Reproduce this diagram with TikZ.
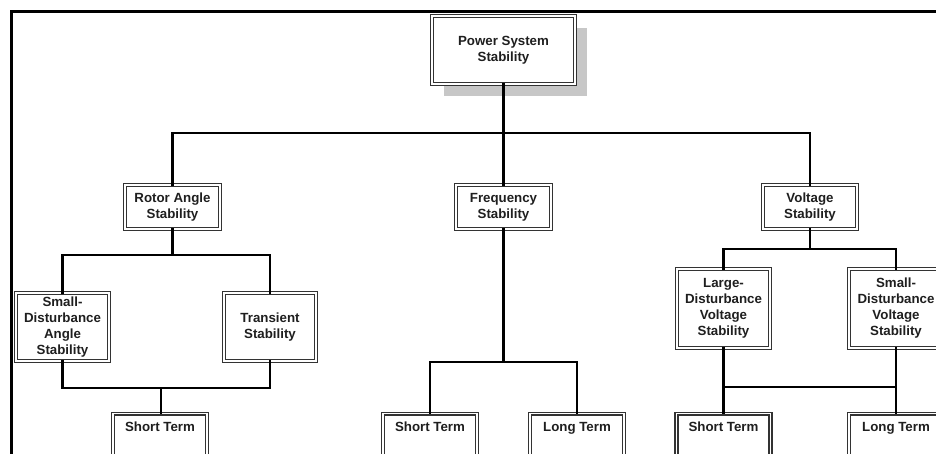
\documentclass[tikz,border=0pt]{standalone}
\usepackage{fontspec}
\setmainfont{Liberation Sans}
\usetikzlibrary{shadows}
\tikzset{
  box/.style={draw=black!80, line width=1.5pt, double=white, double distance=1.1pt,
    fill=white, align=center, text=black!88, inner sep=2pt,
    font=\bfseries\fontsize{13.3}{16}\selectfont},
  shadowbox/.style={box, drop shadow={shadow xshift=12pt, shadow yshift=-12pt, fill=black!22, opacity=1}},
  bottombox/.style={box, text height=18pt, text depth=60pt, inner ysep=0pt, anchor=north, minimum width=94pt},
  conn/.style={draw=black, line width=2.8pt, line cap=rect},
  frame/.style={draw=black, line width=3pt}
}
\begin{document}
\begin{tikzpicture}[x=1pt,y=-1pt]
\useasboundingbox (0,0) rectangle (936,454);
\clip (0,0) rectangle (936,454);
\fill[white] (0,0) rectangle (936,454);
% frame
\coordinate (fa) at (11,470);
\coordinate (fb) at (11,12);
\coordinate (fc) at (950,12);
\draw[frame] (fa) -- (fb) -- (fc);
% nodes
\node[shadowbox, minimum width=143pt, minimum height=68pt] (pss) at (503.5,50) {Power System\\Stability};
\node[box, minimum width=95pt, minimum height=44pt] (ras) at (172.5,207) {Rotor Angle\\Stability};
\node[box, minimum width=95pt, minimum height=44pt] (fs) at (503.5,207) {Frequency\\Stability};
\node[box, minimum width=94pt, minimum height=44pt] (vs) at (810,207) {Voltage\\Stability};
\node[box, minimum width=93pt, minimum height=68pt] (sdas) at (62.5,327) {Small-\\Disturbance\\Angle\\Stability};
\node[box, minimum width=92pt, minimum height=68pt] (ts) at (270,327) {Transient\\Stability};
\node[box, minimum width=93pt, minimum height=79pt] (ldvs) at (723.5,308.5) {Large-\\Disturbance\\Voltage\\Stability};
\node[box, minimum width=94pt, minimum height=79pt] (sdvs) at (896,308.5) {Small-\\Disturbance\\Voltage\\Stability};
\node[bottombox] (st1) at (160,413) {Short Term};
\node[bottombox] (st2) at (430,413) {Short Term};
\node[bottombox] (lt2) at (577,413) {Long Term};
\node[bottombox] (st3) at (723.5,413) {Short Term};
\node[bottombox] (lt3) at (896,413) {Long Term};
% bus coordinates
\coordinate (b1) at (503.5,133);
\coordinate (b2) at (172.5,255);
\coordinate (b3) at (161,388);
\coordinate (b4) at (503.5,362);
\coordinate (b5) at (810,249);
\coordinate (b6) at (723.5,387);
% connectors
\path[conn] (pss.south) -- (fs.north);
\path[conn] (ras.north) -- (ras.north |- b1) -- (vs.north |- b1) -- (vs.north);
\path[conn] (ras.south) -- (b2);
\path[conn] (sdas.north) -- (sdas.north |- b2) -- (ts.north |- b2) -- (ts.north);
\path[conn] (sdas.south) -- (sdas.south |- b3) -- (ts.south |- b3) -- (ts.south);
\path[conn] (b3) -- (b3 |- st1.north);
\path[conn] (fs.south) -- (b4);
\path[conn] (st2.north) -- (st2.north |- b4) -- (lt2.north |- b4) -- (lt2.north);
\path[conn] (vs.south) -- (b5);
\path[conn] (ldvs.north) -- (ldvs.north |- b5) -- (sdvs.north |- b5) -- (sdvs.north);
\path[conn] (ldvs.south) -- (st3.north);
\path[conn] (sdvs.south) -- (lt3.north);
\path[conn] (b6) -- (lt3.north |- b6);
\end{tikzpicture}
\end{document}
